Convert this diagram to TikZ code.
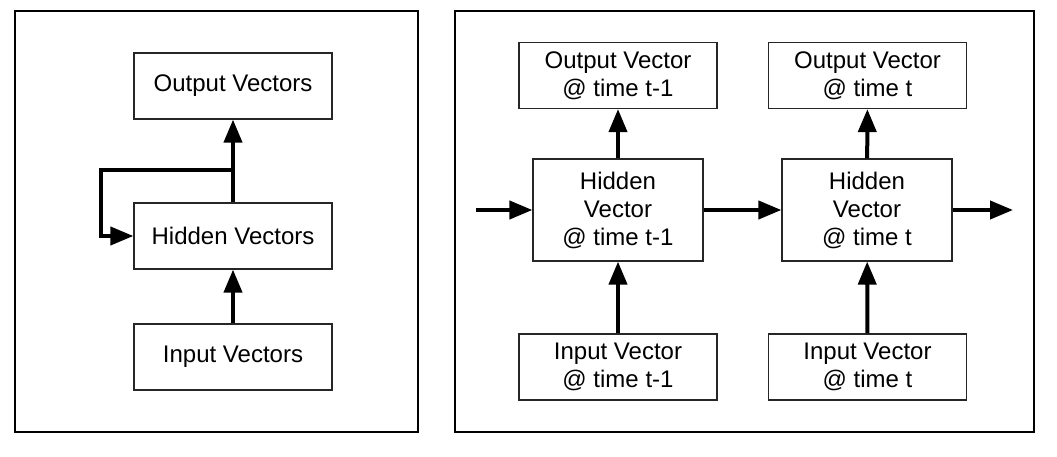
\documentclass[tikz,border=0pt]{standalone}
\usepackage{fontspec}
\setmainfont{Liberation Sans}
\usetikzlibrary{arrows.meta}

\tikzset{
  vecbox/.style={draw=black!85,line width=1.2pt,minimum width=198pt,minimum height=66pt,
    inner sep=0pt,align=center,font=\fontsize{24}{28}\selectfont},
  hidbox/.style={vecbox,minimum width=170pt,minimum height=102pt},
  flow/.style={line width=4pt,-{Triangle[length=23pt,width=18pt]}},
  panel/.style={line width=2.7pt}
}

\begin{document}
\begin{tikzpicture}[x=1pt,y=-1pt]
  \useasboundingbox (0,0) rectangle (1057,457);
  \draw[panel] (15,11) rectangle (418,432);
  \draw[panel] (455,11) rectangle (1034,432);
  % folded network
  \node[vecbox] (out) at (233,86) {Output Vectors};
  \node[vecbox] (hid) at (233,236) {Hidden Vectors};
  \node[vecbox] (inp) at (233,357) {Input Vectors};
  \coordinate (split) at (233,170);
  \coordinate (loop) at (101,170);
  \draw[flow] (inp) -- (hid);
  \draw[flow] (hid) -- (out);
  \draw[flow,line join=miter] (split) -- (loop) |- (hid.west);
  % unrolled in time
  \node[vecbox] (outA) at (618,75.5) {Output Vector\\@ time t-1};
  \node[vecbox] (outB) at (867.5,75.5) {Output Vector\\@ time t};
  \node[hidbox] (hidA) at (618,210) {Hidden\\Vector\\@ time t-1};
  \node[hidbox] (hidB) at (867,210) {Hidden\\Vector\\@ time t};
  \node[vecbox] (inpA) at (618,367) {Input Vector\\@ time t-1};
  \node[vecbox] (inpB) at (867.5,367) {Input Vector\\@ time t};
  \coordinate (start) at (476,210);
  \coordinate (stop) at (1013,210);
  \draw[flow] (inpA) -- (hidA);
  \draw[flow] (inpB) -- (hidB);
  \draw[flow] (hidA) -- (outA);
  \draw[flow] (hidB) -- (outB);
  \draw[flow] (start) -- (hidA);
  \draw[flow] (hidA) -- (hidB);
  \draw[flow] (hidB) -- (stop);
\end{tikzpicture}
\end{document}
